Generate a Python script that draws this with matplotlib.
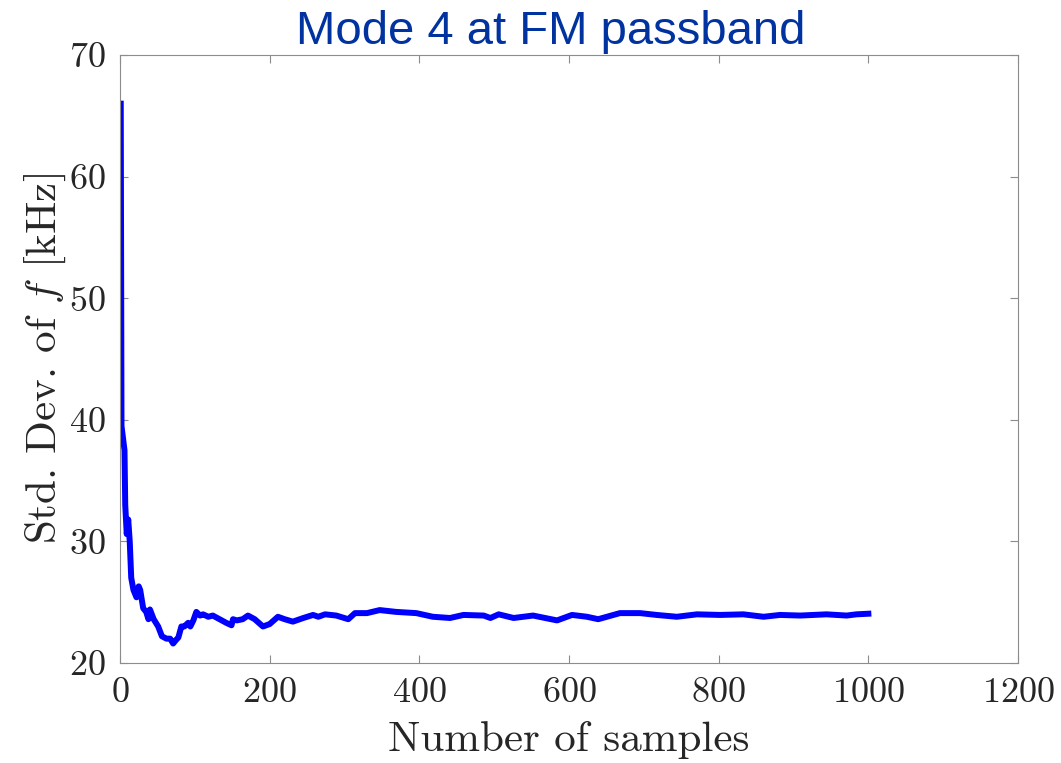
import matplotlib
matplotlib.use("Agg")
import matplotlib.pyplot as plt

# values
samples = [1, 2, 4, 6, 7, 9, 11, 13, 15, 18, 22, 25, 27, 31, 35, 38, 40, 45,
           51, 56, 62, 67, 71, 75, 78, 82, 86, 91, 94, 98, 102, 107, 111, 118,
           124, 133, 142, 149, 151, 156, 164, 171, 180, 191, 200, 211, 220,
           231, 245, 258, 265, 274, 289, 305, 314, 330, 347, 369, 396, 418,
           441, 459, 486, 495, 506, 526, 552, 584, 604, 624, 639, 668, 695,
           717, 744, 771, 802, 833, 860, 882, 909, 944, 971, 984, 1000]
std_khz = [66.0, 39.5, 38.5, 37.5, 33.0, 30.6, 31.8, 30.0, 27.0, 26.0, 25.4,
           26.3, 26.0, 24.5, 24.2, 23.6, 24.4, 23.6, 23.0, 22.2, 22.0, 22.0,
           21.6, 21.9, 22.1, 23.0, 23.0, 23.3, 23.0, 23.5, 24.2, 23.9, 24.0,
           23.8, 23.9, 23.6, 23.3, 23.1, 23.6, 23.5, 23.6, 23.9, 23.6, 23.0,
           23.2, 23.8, 23.6, 23.4, 23.7, 23.95, 23.8, 24.0, 23.9, 23.6, 24.1,
           24.1, 24.35, 24.2, 24.1, 23.8, 23.7, 23.95, 23.9, 23.7, 24.0, 23.7,
           23.9, 23.5, 23.95, 23.8, 23.6, 24.1, 24.1, 23.95, 23.8, 24.0, 23.95,
           24.0, 23.8, 23.95, 23.9, 24.0, 23.9, 24.0, 24.05]
xticks = [0, 200, 400, 600, 800, 1000, 1200]
yticks = [20, 30, 40, 50, 60, 70]

plt.rcParams['font.family'] = ['cmr10', 'DejaVu Serif']
plt.rcParams['mathtext.fontset'] = 'cm'
plt.rcParams['axes.formatter.use_mathtext'] = True

fig = plt.figure(figsize=(10.61, 7.63), dpi=100)
ax = fig.add_axes([0.1131, 0.1311, 0.8464, 0.7968])

ax.plot(samples, std_khz, color='#0000ff', lw=4.3, solid_joinstyle='round')

ax.set_xlim(0, 1200)
ax.set_ylim(20, 70)
ax.set_xticks(xticks)
ax.set_yticks(yticks)
ax.tick_params(direction='in', top=True, right=True, length=6, width=0.8,
               color='#8c8c8c', labelsize=26, labelcolor='#262626', pad=10)
for sp in ax.spines.values():
    sp.set_color('#8c8c8c')
    sp.set_linewidth(0.8)

ax.set_xlabel("Number of samples", fontsize=31, color='#262626', labelpad=9)
ax.set_ylabel(r"Std. Dev. of $f$ [kHz]", fontsize=31, color='#262626', labelpad=1)

fig.text(0.519, 0.958, "Mode 4 at FM passband", ha='center', va='center',
         fontsize=34, color='#0033a0', family='Liberation Sans')

fig.savefig("out.png", dpi=100)
